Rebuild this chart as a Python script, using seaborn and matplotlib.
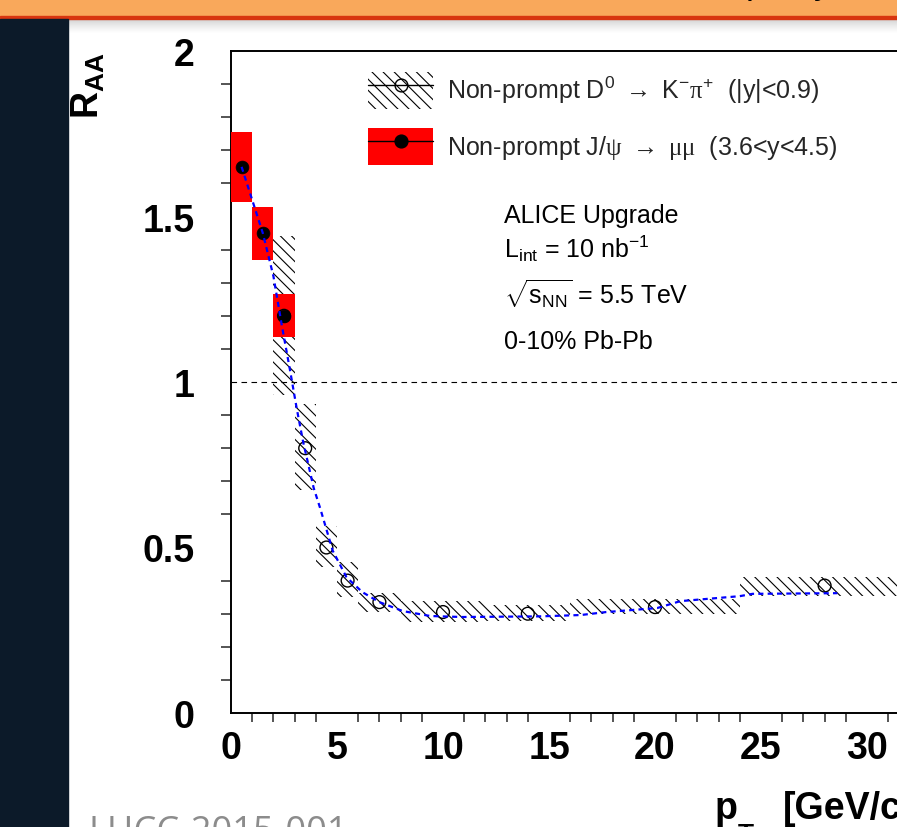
import numpy as np
import seaborn as sns
import matplotlib.pyplot as plt
from matplotlib.patches import Patch, Rectangle
from matplotlib.lines import Line2D
from matplotlib.legend_handler import HandlerTuple
from matplotlib.ticker import MultipleLocator

# non-prompt J/psi -> mumu (3.6<y<4.5)
jpsi_pt = [0.5, 1.5, 2.5]
jpsi_bin_lo = [0, 1, 2]
jpsi_bin_hi = [1, 2, 3]
jpsi_raa = [1.65, 1.45, 1.20]
jpsi_sys_lo = [1.545, 1.37, 1.135]
jpsi_sys_hi = [1.755, 1.53, 1.265]

# non-prompt D0 -> K pi (|y|<0.9)
d0_pt = [2.5, 3.5, 4.5, 5.5, 7, 10, 14, 20, 28]
d0_bin_lo = [2, 3, 4, 5, 6, 8, 12, 16, 24]
d0_bin_hi = [3, 4, 5, 6, 8, 12, 16, 24, 36]
d0_raa = [1.20, 0.80, 0.50, 0.40, 0.335, 0.305, 0.30, 0.32, 0.385]
d0_sys_lo = [0.96, 0.675, 0.44, 0.35, 0.305, 0.275, 0.277, 0.30, 0.353]
d0_sys_hi = [1.44, 0.935, 0.565, 0.455, 0.363, 0.338, 0.325, 0.344, 0.41]

# blue dashed model curve
model_pt = [0.5, 1.0, 1.5, 2.0, 2.4, 2.8, 3.1, 3.4, 3.9, 4.2, 4.8, 5.45, 6.2,
            7.0, 8.1, 9.4, 10.9, 14.6, 16.5, 17.7, 20.1, 21.2, 24.0, 24.6, 28.6]
model_raa = [1.65, 1.55, 1.45, 1.32, 1.17, 1.03, 0.92, 0.82, 0.68, 0.62, 0.49, 0.41, 0.365,
             0.335, 0.308, 0.293, 0.29, 0.292, 0.296, 0.305, 0.317, 0.338, 0.353, 0.36, 0.362]

x_ticks = [0, 5, 10, 15, 20, 25, 30]
y_ticks = [0, 0.5, 1, 1.5, 2]
y_tick_labels = ["0", "0.5", "1", "1.5", "2"]

lab_d0 = r"Non-prompt D$^{0}$ $\rightarrow$ K$^{-}\mathsf{\pi}^{+}$  (|y|<0.9)"
lab_jpsi = r"Non-prompt J/$\mathsf{\psi}$ $\rightarrow$ $\mathsf{\mu\mu}$  (3.6<y<4.5)"

sns.set_theme(style="white")
plt.rcParams["font.family"] = ["Liberation Sans", "DejaVu Sans"]
plt.rcParams["mathtext.fontset"] = "custom"
plt.rcParams["mathtext.rm"] = "Liberation Sans"
plt.rcParams["mathtext.it"] = "Liberation Sans:italic"
plt.rcParams["mathtext.bf"] = "Liberation Sans:bold"
plt.rcParams["mathtext.sf"] = "Liberation Serif"
plt.rcParams["mathtext.default"] = "rm"
plt.rcParams["hatch.linewidth"] = 0.8

W, H, DPI = 897, 828, 100
fig = plt.figure(figsize=(W / DPI, H / DPI), dpi=DPI, facecolor="white")

# slide background: orange title bar, shadow, dark side strip
bg = fig.add_axes([0, 0, 1, 1], zorder=-10)
grad = np.linspace(0, 1, 60) ** 0.6
grad = 0.76 + 0.24 * grad
bg.imshow(np.dstack([grad[:, None]] * 3), extent=[0, W, 34, 19], aspect="auto")
bg.add_patch(Rectangle((0, 0), W, 16.5, color="#f9a85b"))
bg.add_patch(Rectangle((0, 16.5), W, 3, color="#d8350f"))
bg.add_patch(Rectangle((0, 19.5), 68, H, color="#0c1a29"))
bg.set_xlim(0, W)
bg.set_ylim(H, 0)
bg.axis("off")

ax = fig.add_axes([231 / W, (H - 714) / H, 32 * 21.2 / W, (714 - 52) / H])
ax.set_facecolor("none")

# hatched boxes for D0
ax.bar(d0_bin_lo, np.subtract(d0_sys_hi, d0_sys_lo), width=np.subtract(d0_bin_hi, d0_bin_lo),
       bottom=d0_sys_lo, align="edge", facecolor="none", edgecolor="black", linewidth=0,
       hatch="\\\\\\", zorder=2)
# red boxes for J/psi
ax.bar(jpsi_bin_lo, np.subtract(jpsi_sys_hi, jpsi_sys_lo), width=np.subtract(jpsi_bin_hi, jpsi_bin_lo),
       bottom=jpsi_sys_lo, align="edge", color="red", linewidth=0, zorder=3)

ax.axhline(1, color="black", lw=0.8, ls=(0, (5, 4)), zorder=1)

sns.scatterplot(x=d0_pt, y=d0_raa, marker="o", s=85, facecolor="none", edgecolor="black",
                linewidth=1.0, zorder=4, ax=ax)
sns.scatterplot(x=jpsi_pt, y=jpsi_raa, marker="o", s=85, color="black", edgecolor="black",
                linewidth=0.5, zorder=5, ax=ax)
sns.lineplot(x=model_pt, y=model_raa, color="blue", lw=1.6, linestyle=(0, (2.3, 1.9)),
             zorder=6, ax=ax)

ax.set_xlim(0, 32)
ax.set_ylim(0, 2)
ax.set_xticks(x_ticks, labels=[str(t) for t in x_ticks], fontweight="bold", fontsize=27)
ax.set_yticks(y_ticks, labels=y_tick_labels, fontweight="bold", fontsize=27)
ax.xaxis.set_minor_locator(MultipleLocator(1))
ax.yaxis.set_minor_locator(MultipleLocator(0.1))
ax.tick_params(axis="x", which="major", direction="out", length=13, width=1.1, pad=-1, colors="black")
ax.tick_params(axis="x", which="minor", direction="out", length=6.5, width=1.1, bottom=True)
ax.tick_params(axis="y", which="major", direction="out", length=14.4, width=1.1, pad=12, colors="black")
ax.tick_params(axis="y", which="minor", direction="out", length=7, width=1.1, left=True)
for side in ["left", "bottom", "top"]:
    ax.spines[side].set_linewidth(1.4)
    ax.spines[side].set_color("black")
ax.spines["right"].set_visible(False)
ax.set_xlabel("")
ax.set_ylabel("")

h_d0 = (Patch(facecolor="none", edgecolor="black", hatch="\\\\\\", linewidth=0),
        Line2D([], [], color="black", lw=1, marker="o", mfc="none", mec="black", ms=9.2))
h_jpsi = (Patch(facecolor="red", linewidth=0),
          Line2D([], [], color="black", lw=1, marker="o", mfc="black", mec="black", ms=9.2))
ax.legend([h_d0, h_jpsi], [lab_d0, lab_jpsi], handler_map={tuple: HandlerTuple(ndivide=1)},
          loc="upper left", bbox_to_anchor=(368 / W, 1 - 73 / H), bbox_transform=fig.transFigure,
          frameon=False, fontsize=18, numpoints=1, borderpad=0, borderaxespad=0,
          handlelength=2.6, handleheight=1.9, handletextpad=0.56, labelspacing=0.76)

txt = dict(fontsize=18, color="black", ha="left", va="baseline")
fig.text(504 / W, 1 - 223 / H, "ALICE Upgrade", **txt)
fig.text(504 / W, 1 - 258 / H, r"L$_{\mathrm{int}}$ = 10 nb$^{\mathrm{-1}}$", **txt)
fig.text(504 / W, 1 - 305 / H, r"$\sqrt{\mathrm{s}_{\mathrm{NN}}}$ = 5.5 TeV", **txt)
fig.text(504 / W, 1 - 349 / H, "0-10% Pb-Pb", **txt)

fig.text(70 / W, 1 - 52 / H, r"$\mathbf{R}_{\mathbf{AA}}$", rotation=90, ha="left", va="top",
         fontsize=27, color="black")

# x axis title, cut by the bottom edge of the slide
fig.text(715 / W, 1 - 819 / H, "p", fontweight="bold", fontsize=27,
         ha="left", va="baseline", color="black")
fig.text(738 / W, 1 - 842 / H, "T", fontweight="bold", fontsize=19,
         ha="left", va="baseline", color="black")
fig.text(783 / W, 1 - 819 / H, "[GeV/c]", fontweight="bold", fontsize=27,
         ha="left", va="baseline", color="black")

fig.text(88 / W, 1 - 842 / H, "LHCC-2015-001", family="Open Sans", fontsize=26,
         color="#8c8c8c", ha="left", va="baseline")
fig.text(746 / W, 1 + 7 / H, "p", fontsize=26, color="black", ha="left", va="baseline")
fig.text(814 / W, 1 + 7 / H, "y", fontsize=26, color="black", ha="left", va="baseline")

fig.savefig("out.png", dpi=DPI)
